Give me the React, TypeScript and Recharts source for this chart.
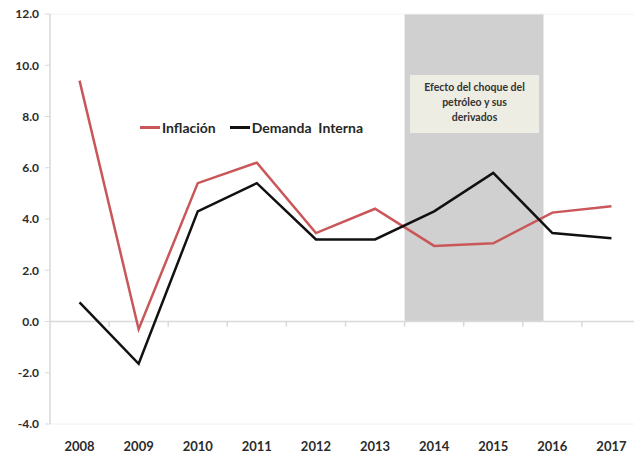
import { LineChart, Line, XAxis, YAxis, ReferenceArea, ReferenceLine } from "recharts";

const years = [2008, 2009, 2010, 2011, 2012, 2013, 2014, 2015, 2016, 2017];
const inflacion = [9.4, -0.3, 5.4, 6.2, 3.45, 4.4, 2.95, 3.05, 4.25, 4.5];
const demandaInterna = [0.75, -1.65, 4.3, 5.4, 3.2, 3.2, 4.3, 5.8, 3.45, 3.25];
const yTicks = [-4, -2, 0, 2, 4, 6, 8, 10, 12];
const shockStart = 2013.5;
const shockEnd = 2015.85;
const shockLabel = ["Efecto del choque del", "petróleo y sus", "derivados"];

const data = years.map((y, i) => ({ year: y, inflacion: inflacion[i], demanda: demandaInterna[i] }));
const boundaries = years.slice(0, -1).map((y) => y + 0.5);

const font = "Lato, 'Open Sans', sans-serif";

function LegendBox() {
  const item = (color: string, label: string) => (
    <span style={{ display: "inline-flex", alignItems: "center", marginRight: 14 }}>
      <span style={{ width: 20, height: 3, background: color, display: "inline-block", marginRight: 2 }} />
      <span>{label}</span>
    </span>
  );
  return (
    <div style={{ position: "absolute", left: 140, top: 115, fontFamily: font, fontWeight: 700, fontSize: 14, color: "#262626", whiteSpace: "pre" }}>
      {item("#c9575a", "Inflación")}
      {item("#111111", "Demanda  Interna")}
    </div>
  );
}

export default function App() {
  return (
    <div style={{ position: "fixed", left: 0, top: 0, width: 634, height: 455, overflow: "hidden", background: "#fff" }}>
      <LineChart width={641} height={455} data={data} margin={{ top: 14, right: 0, left: 0, bottom: 0 }}>
        <ReferenceArea x1={shockStart} x2={shockEnd} y1={0} y2={12} fill="#d0d0d0" fillOpacity={1} stroke="none" />
        <ReferenceLine y={12} stroke="#f2f2f2" />
        <ReferenceLine y={0} stroke="#d9d9d9" strokeWidth={1.5} />
        {boundaries.map((b) => (
          <ReferenceLine key={b} segment={[{ x: b, y: 0 }, { x: b, y: -0.2 }]} stroke="#d9d9d9" strokeWidth={1.5} />
        ))}
        <XAxis
          dataKey="year"
          type="number"
          scale="linear"
          domain={[2007.5, 2017.5]}
          allowDataOverflow
          ticks={years}
          interval={0}
          height={31}
          tickLine={false}
          axisLine={{ stroke: "#f0f0f0" }}
          tickMargin={12}
          tick={{ fontSize: 13, fontWeight: 700, fill: "#2b2b2b", fontFamily: font }}
        />
        <YAxis
          domain={[-4, 12]}
          allowDataOverflow
          ticks={yTicks}
          interval={0}
          width={50}
          tickFormatter={(v: number) => v.toFixed(1)}
          axisLine={{ stroke: "#d9d9d9", strokeWidth: 1.5 }}
          tickLine={{ stroke: "#d9d9d9" }}
          tickSize={5}
          tickMargin={6}
          tick={{ fontSize: 12, fontWeight: 700, fill: "#2b2b2b", fontFamily: font }}
        />
        <Line type="linear" dataKey="inflacion" stroke="#c9575a" strokeWidth={2.5} dot={false} isAnimationActive={false} />
        <Line type="linear" dataKey="demanda" stroke="#111111" strokeWidth={2.5} dot={false} isAnimationActive={false} />
      </LineChart>
      <LegendBox />
      <div
        style={{
          position: "absolute",
          left: 410,
          top: 75,
          width: 129,
          height: 58,
          background: "#eeede3",
          fontFamily: font,
          fontWeight: 700,
          fontSize: 10.5,
          color: "#333",
          textAlign: "center",
          lineHeight: "15px",
          paddingTop: 5,
          boxSizing: "border-box",
        }}
      >
        {shockLabel.map((l) => (
          <div key={l}>{l}</div>
        ))}
      </div>
    </div>
  );
}
